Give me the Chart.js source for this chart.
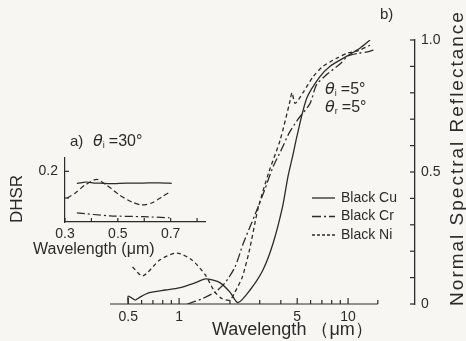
<!DOCTYPE html>
<html>
<head>
<meta charset="utf-8">
<title>Spectral reflectance</title>
<script src="https://cdn.jsdelivr.net/npm/chart.js@4.4.1/dist/chart.umd.min.js"></script>
<style>
	body { margin: 0; background: #f7f6f2; }
	#wrap { position: relative; width: 466px; height: 341px; }
	#main { position: absolute; left: 0; top: 0; }
	#inset { position: absolute; left: 0; top: 130px; }
</style>
</head>
<body>
<div id="wrap">
	<canvas id="main" width="466" height="341"></canvas>
	<canvas id="inset" width="220" height="130"></canvas>
</div>
<script>
// b) normal spectral reflectance, wavelength in um (log axis)
var cuWl = [0.50, 0.50, 0.55, 0.59, 0.66, 0.83, 1.0, 1.24, 1.43, 1.57, 1.75, 2.0, 2.23, 2.63, 3.14, 3.6, 4.1, 4.4, 4.7, 5.0, 5.7, 6.8, 7.8, 9.9, 11.8, 13.5];
var cuR  = [0.0, 0.03, 0.015, 0.027, 0.042, 0.053, 0.061, 0.08, 0.095, 0.091, 0.08, 0.045, 0.005, 0.053, 0.13, 0.23, 0.37, 0.48, 0.56, 0.64, 0.78, 0.86, 0.90, 0.94, 0.97, 1.0];
var crWl = [1.12, 1.37, 1.63, 1.87, 2.14, 2.4, 2.82, 3.2, 3.6, 4.0, 4.5, 5.06, 5.96, 6.5, 7.5, 9.0, 10, 11.5, 13, 14.5];
var crR  = [0.0, 0.02, 0.045, 0.08, 0.14, 0.23, 0.34, 0.43, 0.52, 0.58, 0.65, 0.70, 0.76, 0.83, 0.87, 0.91, 0.94, 0.95, 0.955, 0.965];
var niWl = [0.53, 0.61, 0.77, 0.97, 1.19, 1.43, 1.63, 1.8, 2.0, 2.14, 2.36, 2.6, 2.93, 3.4, 3.96, 4.5, 4.66, 4.86, 5.4, 6.2, 7.1, 8.5, 9.9, 11.5, 13.5];
var niR  = [0.14, 0.106, 0.167, 0.193, 0.167, 0.11, 0.045, 0.02, 0.015, 0.045, 0.10, 0.2, 0.36, 0.5, 0.62, 0.76, 0.80, 0.76, 0.80, 0.86, 0.90, 0.93, 0.95, 0.96, 0.98];
var xTicks = [0.5, 0.6, 0.7, 0.8, 0.9, 1, 2, 3, 4, 5, 6, 7, 8, 9, 10, 15];
var xLabels = [0.5, 1, 5, 10];
var yTicks = [0, 0.1, 0.2, 0.3, 0.4, 0.5, 0.6, 0.7, 0.8, 0.9, 1.0];
var yLabels = {0: '0', 0.5: '0.5', 1: '1.0'};
var seriesNames = ['Black Cu', 'Black Cr', 'Black Ni'];

// a) DHSR inset, theta_i = 30 deg
var aCuWl = [0.345, 0.365, 0.383, 0.41, 0.432, 0.47, 0.534, 0.594, 0.658, 0.704];
var aCuV  = [0.155, 0.158, 0.16, 0.156, 0.156, 0.154, 0.156, 0.156, 0.157, 0.155];
var aCrWl = [0.345, 0.47, 0.594, 0.696];
var aCrV  = [0.044, 0.033, 0.03, 0.026];
var aNiWl = [0.308, 0.338, 0.375, 0.42, 0.458, 0.508, 0.553, 0.59, 0.628, 0.666, 0.696];
var aNiV  = [0.10, 0.118, 0.148, 0.17, 0.148, 0.11, 0.085, 0.074, 0.081, 0.104, 0.122];
var aXTicks = [0.3, 0.4, 0.5, 0.6, 0.7, 0.8];
var aXLabels = [0.3, 0.5, 0.7];
var aYTicks = [0.1, 0.2];

var ink = '#2b2b2b';
var sans = '"Liberation Sans", Arial, sans-serif';
var dashes = [[], [9, 3, 2, 3], [4, 3]];

function pts(xs, ys) {
	return xs.map(function(x, i) { return {x: x, y: ys[i]}; });
}
function line(label, data, dash, w) {
	return {label: label, data: data, borderColor: ink, borderWidth: w, borderDash: dash,
		pointRadius: 0, tension: 0.25, fill: false};
}
function fixTicks(vals) {
	return function(scale) { scale.ticks = vals.map(function(v) { return {value: v}; }); };
}

// ticks drawn inward, like the printed figure
var innerTicks = {
	id: 'innerTicks',
	afterDraw: function(chart, args, opts) {
		var ctx = chart.ctx;
		ctx.save();
		ctx.strokeStyle = ink;
		ctx.lineWidth = 1.2;
		(opts.scales || []).forEach(function(o) {
			var sc = chart.scales[o.id];
			if (o.lineTo) {
				ctx.beginPath();
				ctx.moveTo(sc.left, sc.top);
				ctx.lineTo(sc.getPixelForValue(o.lineTo), sc.top);
				ctx.stroke();
			}
			sc.ticks.forEach(function(t) {
				var len = (o.major || []).indexOf(t.value) >= 0 ? o.long : o.short;
				var p = sc.getPixelForValue(t.value);
				ctx.beginPath();
				if (sc.isHorizontal()) { ctx.moveTo(p, sc.top); ctx.lineTo(p, sc.top - len); }
				else if (sc.position === 'right') { ctx.moveTo(sc.left, p); ctx.lineTo(sc.left - len, p); }
				else { ctx.moveTo(sc.right, p); ctx.lineTo(sc.right + len, p); }
				ctx.stroke();
			});
		});
		ctx.restore();
	}
};

function theta(ctx, x, y, sub, rest, size) {
	ctx.textAlign = 'left';
	ctx.font = 'italic ' + size + 'px "DejaVu Sans"';
	ctx.fillText('θ', x, y);
	x += ctx.measureText('θ').width;
	ctx.font = Math.round(size * 0.55) + 'px ' + sans;
	ctx.fillText(sub, x, y + size * 0.2);
	x += ctx.measureText(sub).width + 4;
	ctx.font = size + 'px ' + sans;
	ctx.fillText(rest, x, y);
}

var mainText = {
	id: 'mainText',
	afterDraw: function(chart) {
		var ctx = chart.ctx, a = chart.chartArea;
		ctx.save();
		ctx.fillStyle = ink;
		ctx.textBaseline = 'middle';
		ctx.font = '15px ' + sans;
		ctx.fillText('b)', a.right - 35, a.top - 25);
		theta(ctx, a.right - 90, a.top + 50, 'i', '=5°', 16);
		theta(ctx, a.right - 90, a.top + 68, 'r', '=5°', 16);
		ctx.font = '18px ' + sans;
		ctx.fillText('Wavelength （μm）', a.left + 102, a.bottom + 26);
		// legend from the datasets
		chart.data.datasets.forEach(function(ds, i) {
			var y = a.top + 158 + i * 18.5;
			ctx.strokeStyle = ink;
			ctx.lineWidth = 1.3;
			ctx.setLineDash(i === 2 ? [3, 2] : ds.borderDash);
			ctx.beginPath();
			ctx.moveTo(a.left + 202, y);
			ctx.lineTo(a.left + 225, y);
			ctx.stroke();
			ctx.setLineDash([]);
			ctx.font = '14px ' + sans;
			ctx.fillText(ds.label, a.left + 231, y);
		});
		ctx.translate(a.right + 43, (a.top + a.bottom) / 2 - 14);
		ctx.rotate(-Math.PI / 2);
		ctx.textAlign = 'center';
		ctx.font = '19px ' + sans;
		ctx.letterSpacing = '2px';
		ctx.fillText('Normal Spectral Reflectance', 0, 0);
		ctx.restore();
	}
};

new Chart(document.getElementById('main'), {
	type: 'line',
	data: {
		datasets: [
			line(seriesNames[0], pts(cuWl, cuR), dashes[0], 1.3),
			line(seriesNames[1], pts(crWl, crR), dashes[1], 1.3),
			line(seriesNames[2], pts(niWl, niR), dashes[2], 1.3)
		]
	},
	options: {
		responsive: false,
		animation: false,
		layout: {padding: {left: 110, top: 40, right: 0, bottom: 0}},
		plugins: {
			legend: {display: false},
			tooltip: {enabled: false},
			innerTicks: {scales: [
				{id: 'x', lineTo: 15, major: xLabels, long: 6, short: 4},
				{id: 'y', long: 5, short: 5}
			]}
		},
		scales: {
			x: {
				type: 'logarithmic', min: 0.39, max: 24.9,
				afterBuildTicks: fixTicks(xTicks),
				afterFit: function(s) { s.height = 37; },
				border: {display: false},
				grid: {drawOnChartArea: false, drawTicks: false},
				ticks: {autoSkip: false, maxRotation: 0, padding: 5, color: ink,
					font: {size: 14, family: sans},
					callback: function(v) { return xLabels.indexOf(v) >= 0 ? String(v) : ''; }}
			},
			y: {
				position: 'right', min: 0, max: 1,
				afterBuildTicks: fixTicks(yTicks),
				afterFit: function(s) { s.width = 51; },
				border: {display: true, color: ink, width: 1.3},
				grid: {drawOnChartArea: false, drawTicks: false},
				ticks: {padding: 6, color: ink, font: {size: 14, family: sans},
					callback: function(v) { return yLabels[v] || ''; }}
			}
		}
	},
	plugins: [innerTicks, mainText]
});

var insetText = {
	id: 'insetText',
	afterDraw: function(chart) {
		var ctx = chart.ctx, a = chart.chartArea;
		ctx.save();
		ctx.fillStyle = ink;
		ctx.textBaseline = 'middle';
		ctx.font = '15px ' + sans;
		ctx.fillText('a)', a.left + 5, a.top - 16);
		theta(ctx, a.left + 28, a.top - 16, 'i', '=30°', 16);
		ctx.fillText('Wavelength (μm)', a.left - 32, a.bottom + 28);
		ctx.translate(a.left - 48, a.top + 41);
		ctx.rotate(-Math.PI / 2);
		ctx.textAlign = 'center';
		ctx.font = '17px ' + sans;
		ctx.fillText('DHSR', 0, 0);
		ctx.restore();
	}
};

new Chart(document.getElementById('inset'), {
	type: 'line',
	data: {
		datasets: [
			line(seriesNames[0], pts(aCuWl, aCuV), dashes[0], 1.2),
			line(seriesNames[1], pts(aCrWl, aCrV), [8, 3, 2, 3], 1.2),
			line(seriesNames[2], pts(aNiWl, aNiV), [5, 3], 1.2)
		]
	},
	options: {
		responsive: false,
		animation: false,
		layout: {padding: {left: 0, top: 28, right: 15, bottom: 0}},
		plugins: {
			legend: {display: false},
			tooltip: {enabled: false},
			innerTicks: {scales: [
				{id: 'x', long: 4, short: 4},
				{id: 'y', long: 4, short: 4}
			]}
		},
		scales: {
			x: {
				type: 'linear', min: 0.3, max: 0.83,
				afterBuildTicks: fixTicks(aXTicks),
				afterFit: function(s) { s.height = 38; },
				border: {display: true, color: ink, width: 1.2},
				grid: {drawOnChartArea: false, drawTicks: false},
				ticks: {autoSkip: false, maxRotation: 0, padding: 4, color: ink,
					font: {size: 14, family: sans},
					callback: function(v) { return aXLabels.indexOf(Math.round(v * 10) / 10) >= 0 ? v.toFixed(1) : ''; }}
			},
			y: {
				min: 0.01, max: 0.25,
				afterBuildTicks: fixTicks(aYTicks),
				afterFit: function(s) { s.width = 65; },
				border: {display: true, color: ink, width: 1.2},
				grid: {drawOnChartArea: false, drawTicks: false},
				ticks: {padding: 7, color: ink, font: {size: 14, family: sans},
					callback: function(v) { return v === 0.2 ? '0.2' : ''; }}
			}
		}
	},
	plugins: [innerTicks, insetText]
});
</script>
</body>
</html>
